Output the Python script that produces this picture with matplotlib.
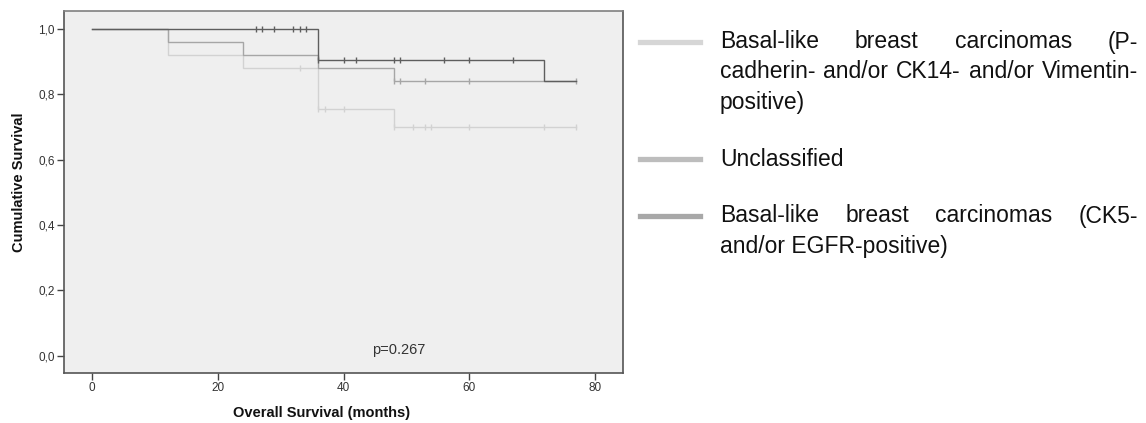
import numpy as np
import matplotlib
matplotlib.use("Agg")
import matplotlib.pyplot as plt
from matplotlib.lines import Line2D

plt.rcParams["font.family"] = ["Liberation Sans", "DejaVu Sans"]

W, H = 1146, 423

# Kaplan-Meier steps (months, cumulative survival)
light_t = [0, 12, 24, 36, 48, 77]
light_s = [1.0, 0.92, 0.88, 0.754, 0.70, 0.70]
light_cens = [33, 36, 37, 40, 48, 51, 53, 54, 60, 72, 77]

unc_t = [0, 12, 24, 36, 48, 77]
unc_s = [1.0, 0.96, 0.92, 0.88, 0.84, 0.84]
unc_cens = [48, 49, 53, 60, 77]

dark_t = [0, 36, 72, 77]
dark_s = [1.0, 0.904, 0.84, 0.84]
dark_cens = [26, 27, 29, 32, 33, 34, 36, 40, 42, 48, 49, 56, 60, 67]

p_text = "p=0.267"
x_ticks = [0, 20, 40, 60, 80]
y_ticks = [0.0, 0.2, 0.4, 0.6, 0.8, 1.0]
y_ticklabels = ["0,0", "0,2", "0,4", "0,6", "0,8", "1,0"]

legend_lines = [
    ["Basal-like breast carcinomas (P-", "cadherin- and/or CK14- and/or Vimentin-", "positive)"],
    ["Unclassified"],
    ["Basal-like breast carcinomas (CK5-", "and/or EGFR-positive)"],
]
legend_colors = ["#d6d6d6", "#bdbdbd", "#a8a8a8"]


def step_value(t, s, c):
    i = np.searchsorted(t, c, side="right") - 1
    return s[i]


fig = plt.figure(figsize=(W / 100, H / 100), dpi=100)
fig.patch.set_facecolor("white")
ax = fig.add_axes([64 / W, 1 - 373 / H, (623 - 64) / W, (373 - 11) / H])
ax.set_facecolor("#efefef")

series = [
    (light_t, light_s, light_cens, "#d2d2d2", 1.0),
    (unc_t, unc_s, unc_cens, "#a6a6a6", 1.0),
    (dark_t, dark_s, dark_cens, "#5e5e5e", 1.0),
]
for t, s, cens, col, lw in series:
    ax.step(t, s, where="post", color=col, lw=lw, solid_joinstyle="miter")
    cy = [step_value(t, s, c) for c in cens]
    ax.plot(cens, cy, ls="none", marker="|", ms=5, mew=1.0, color=col)

ax.text(44.6, 0.017, p_text, fontsize=10.5, color="#333333", va="center")

ax.set_xlim(-4.5, 84.5)
ax.set_ylim(-0.053, 1.055)
ax.set_xticks(x_ticks)
ax.set_xticklabels([str(v) for v in x_ticks])
ax.set_yticks(y_ticks)
ax.set_yticklabels(y_ticklabels)
ax.tick_params(length=5, width=1, color="#444444", labelsize=8.5,
               labelcolor="#333333", pad=1.5)
for side, sp in ax.spines.items():
    sp.set_color("#555555")
    sp.set_linewidth(1.2)
ax.spines["top"].set_color("#808080")

fig.text(322 / W, 1 - 413 / H, "Overall Survival (months)", fontsize=10.5,
         fontweight="bold", ha="center", va="center", color="#111111")
fig.text(19 / W, 1 - 182 / H, "Cumulative Survival", fontsize=10.5,
         fontweight="bold", ha="center", va="center", rotation=90, color="#111111")

# legend drawn by hand: the words are justified like in the source
x0, x1 = 720, 1138
rend = fig.canvas.get_renderer()


def justify(line, yc):
    words = line.split(" ")
    texts = [fig.text(0, 1 - yc / H, w, fontsize=16.5, va="center", color="#111111")
             for w in words]
    widths = [t.get_window_extent(rend).width for t in texts]
    gap = (x1 - x0 - sum(widths)) / (len(words) - 1)
    x = x0
    for t, w in zip(texts, widths):
        t.set_x(x / W)
        x += w + gap


centers = [[42, 72, 102], [159], [216, 247]]
for lines, ys, col in zip(legend_lines, centers, legend_colors):
    fig.add_artist(Line2D([640 / W, 700 / W], [1 - ys[0] / H] * 2, color=col, lw=3.8))
    for k, (line, yc) in enumerate(zip(lines, ys)):
        if k < len(lines) - 1:
            justify(line, yc)
        else:
            fig.text(x0 / W, 1 - yc / H, line, fontsize=16.5, va="center", color="#111111")

fig.savefig("out.png", dpi=100)
